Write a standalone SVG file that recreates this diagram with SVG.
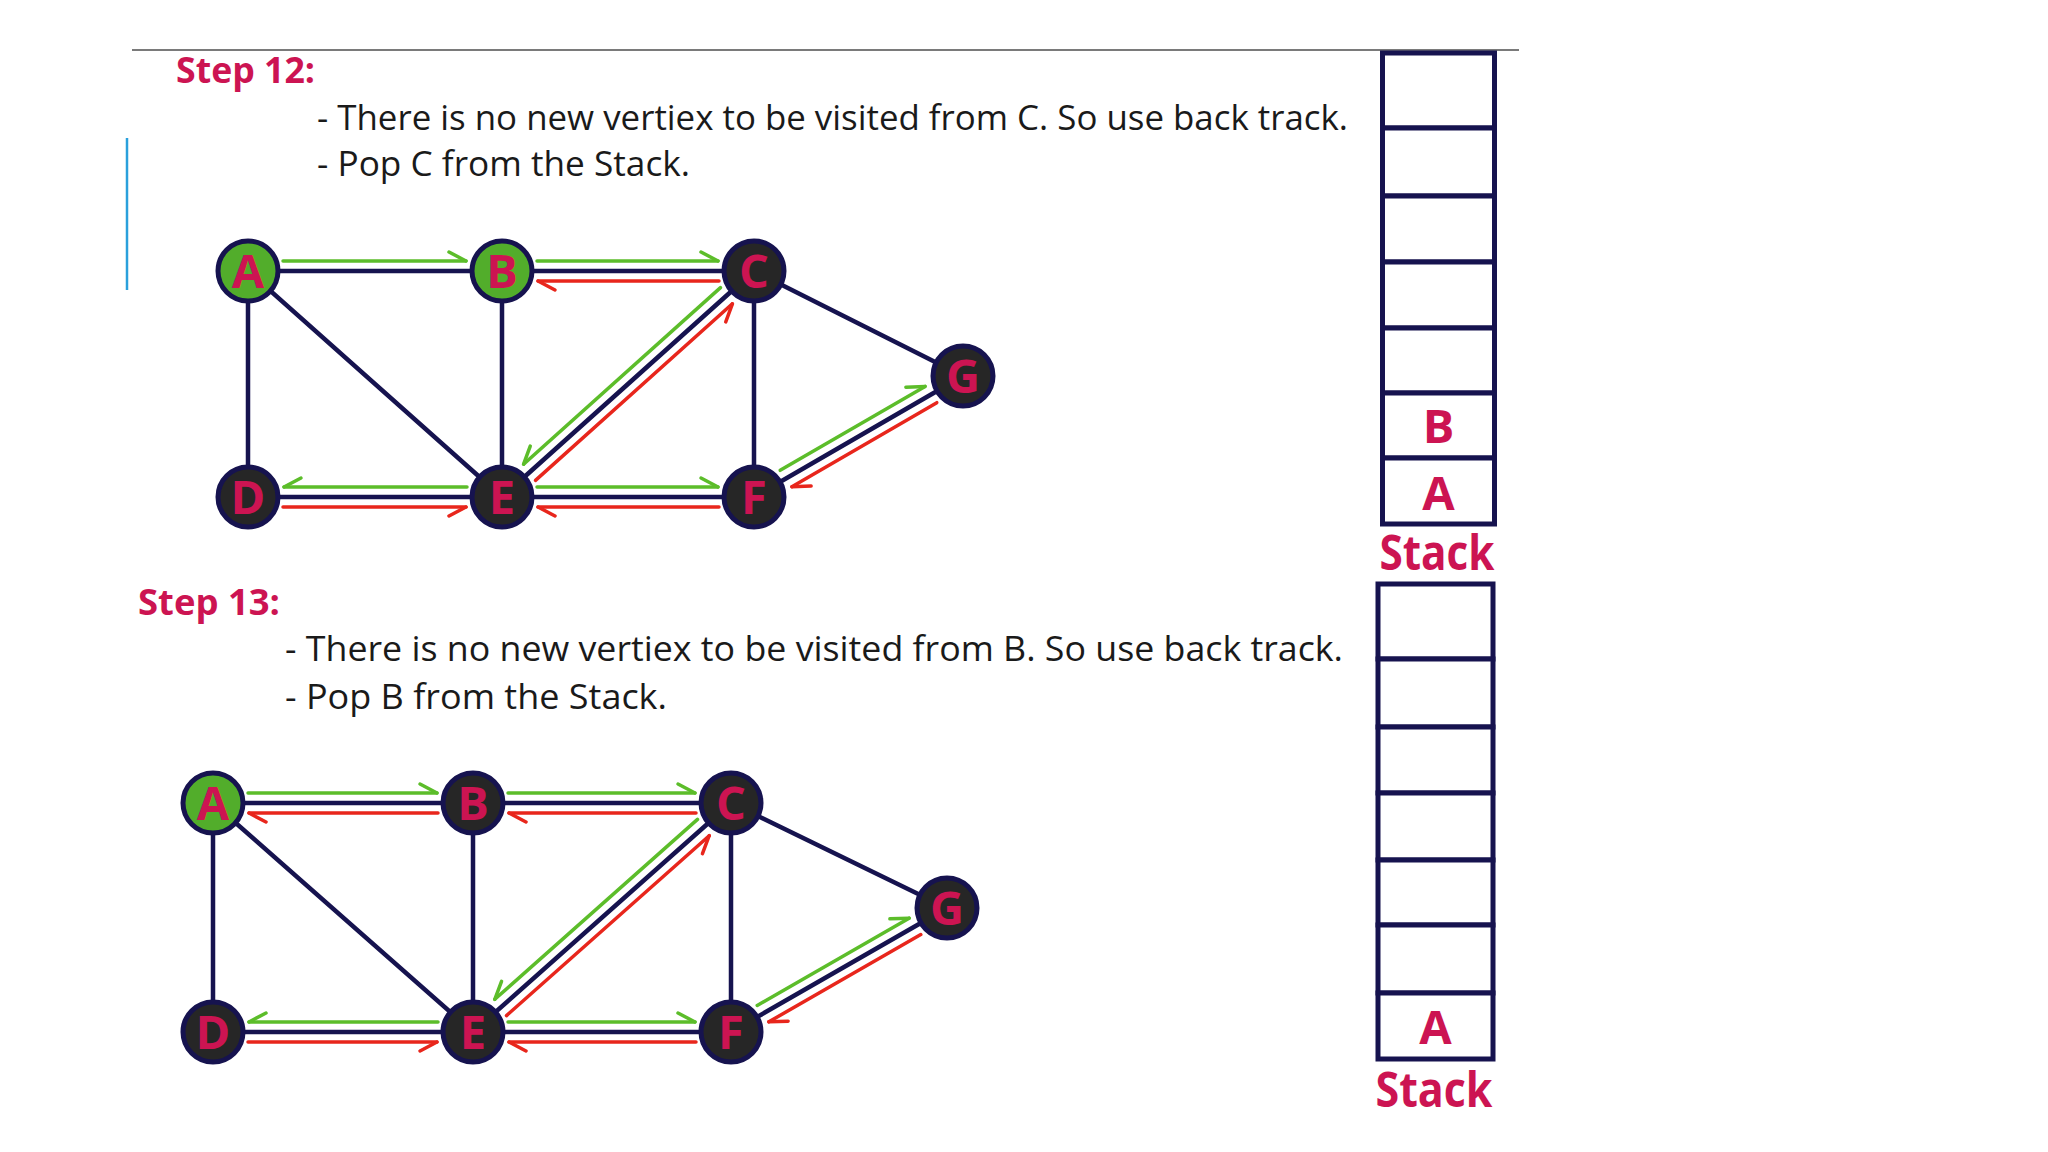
<svg xmlns="http://www.w3.org/2000/svg" width="2048" height="1152" viewBox="0 0 2048 1152">
<defs>
<style>
.title{font-family:"Open Sans","Noto Sans","Liberation Sans",sans-serif;font-weight:700;fill:#cc1452;font-size:35px}
.body{font-family:"Open Sans","Noto Sans","Liberation Sans",sans-serif;font-size:34px;fill:#1a1a1a}
.edge{stroke:#16134f;stroke-width:4.5;stroke-linecap:round;fill:none}
.ga{stroke:#5cbd2a;stroke-width:3.5;stroke-linecap:round;fill:none}
.ra{stroke:#e8261c;stroke-width:3.5;stroke-linecap:round;fill:none}
.node{stroke:#16134f;stroke-width:5}
.dark{fill:#262626}
.green{fill:#52ad2b}
.lbl{font-family:"Open Sans","Noto Sans","Liberation Sans",sans-serif;font-weight:700;font-size:47px;fill:#cc1452;text-anchor:middle}
.cell{fill:#ffffff;stroke:#16134f;stroke-width:5}
.stk{font-family:"Open Sans","Noto Sans","Liberation Sans",sans-serif;font-weight:700;font-size:48px;fill:#cc1452;text-anchor:middle}
</style>
<marker id="gpos" markerUnits="userSpaceOnUse" orient="auto" markerWidth="40" markerHeight="40" viewBox="-20 -20 40 40" refX="0" refY="0" overflow="visible"><path d="M0,0 L-17,9" stroke="#5cbd2a" stroke-width="3.5" stroke-linecap="round" fill="none"/></marker>
<marker id="gneg" markerUnits="userSpaceOnUse" orient="auto" markerWidth="40" markerHeight="40" viewBox="-20 -20 40 40" refX="0" refY="0" overflow="visible"><path d="M0,0 L-17,-9" stroke="#5cbd2a" stroke-width="3.5" stroke-linecap="round" fill="none"/></marker>
<marker id="rpos" markerUnits="userSpaceOnUse" orient="auto" markerWidth="40" markerHeight="40" viewBox="-20 -20 40 40" refX="0" refY="0" overflow="visible"><path d="M0,0 L-17,9" stroke="#e8261c" stroke-width="3.5" stroke-linecap="round" fill="none"/></marker>
<marker id="rneg" markerUnits="userSpaceOnUse" orient="auto" markerWidth="40" markerHeight="40" viewBox="-20 -20 40 40" refX="0" refY="0" overflow="visible"><path d="M0,0 L-17,-9" stroke="#e8261c" stroke-width="3.5" stroke-linecap="round" fill="none"/></marker>
</defs>
<rect width="2048" height="1152" fill="#ffffff"/>
<line x1="132" y1="50" x2="1519" y2="50" stroke="#7a7a7a" stroke-width="2"/>
<line x1="127" y1="138" x2="127" y2="290" stroke="#2aa0dc" stroke-width="2.5"/>

<g id="text-step12">
<text class="title" x="176" y="83" textLength="139" lengthAdjust="spacingAndGlyphs">Step 12:</text>
<text class="body" x="317" y="130" textLength="1031" lengthAdjust="spacingAndGlyphs">- There is no new vertiex to be visited from C. So use back track.</text>
<text class="body" x="317" y="176" textLength="373" lengthAdjust="spacingAndGlyphs">- Pop C from the Stack.</text>
</g>
<g id="text-step13">
<text class="title" x="138" y="615" textLength="142" lengthAdjust="spacingAndGlyphs">Step 13:</text>
<text class="body" x="285" y="661" textLength="1058" lengthAdjust="spacingAndGlyphs">- There is no new vertiex to be visited from B. So use back track.</text>
<text class="body" x="285" y="709" textLength="382" lengthAdjust="spacingAndGlyphs">- Pop B from the Stack.</text>
</g>

<g id="connectors-step12">
<line class="edge" x1="248" y1="271" x2="502" y2="271"/>
<line class="edge" x1="502" y1="271" x2="754" y2="271"/>
<line class="edge" x1="248" y1="271" x2="248" y2="497"/>
<line class="edge" x1="248" y1="271" x2="502" y2="497"/>
<line class="edge" x1="502" y1="271" x2="502" y2="497"/>
<line class="edge" x1="754" y1="271" x2="502" y2="497"/>
<line class="edge" x1="754" y1="271" x2="754" y2="497"/>
<line class="edge" x1="754" y1="271" x2="963" y2="376"/>
<line class="edge" x1="248" y1="497" x2="502" y2="497"/>
<line class="edge" x1="502" y1="497" x2="754" y2="497"/>
<line class="edge" x1="754" y1="497" x2="963" y2="376"/>
<line class="ga" x1="283" y1="261" x2="466" y2="261" marker-end="url(#gneg)"/>
<line class="ga" x1="537" y1="261" x2="718" y2="261" marker-end="url(#gneg)"/>
<line class="ra" x1="719" y1="281" x2="538" y2="281" marker-end="url(#rneg)"/>
<line class="ga" x1="467" y1="487" x2="284" y2="487" marker-end="url(#gpos)"/>
<line class="ra" x1="283" y1="507" x2="466" y2="507" marker-end="url(#rpos)"/>
<line class="ga" x1="537" y1="487" x2="718" y2="487" marker-end="url(#gneg)"/>
<line class="ra" x1="719" y1="507" x2="538" y2="507" marker-end="url(#rneg)"/>
<line class="ga" x1="720.5" y1="287.6" x2="523.6" y2="464.2" marker-end="url(#gpos)"/>
<line class="ra" x1="535.5" y1="480.4" x2="732.4" y2="303.8" marker-end="url(#rpos)"/>
<line class="ga" x1="780.2" y1="470.3" x2="925.1" y2="386.4" marker-end="url(#gneg)"/>
<line class="ra" x1="936.8" y1="402.7" x2="791.9" y2="486.7" marker-end="url(#rneg)"/>
</g>

<g id="connectors-step13">
<line class="edge" x1="213" y1="803" x2="473" y2="803"/>
<line class="edge" x1="473" y1="803" x2="731" y2="803"/>
<line class="edge" x1="213" y1="803" x2="213" y2="1032"/>
<line class="edge" x1="213" y1="803" x2="473" y2="1032"/>
<line class="edge" x1="473" y1="803" x2="473" y2="1032"/>
<line class="edge" x1="731" y1="803" x2="473" y2="1032"/>
<line class="edge" x1="731" y1="803" x2="731" y2="1032"/>
<line class="edge" x1="731" y1="803" x2="947" y2="908"/>
<line class="edge" x1="213" y1="1032" x2="473" y2="1032"/>
<line class="edge" x1="473" y1="1032" x2="731" y2="1032"/>
<line class="edge" x1="731" y1="1032" x2="947" y2="908"/>
<line class="ga" x1="248" y1="793" x2="437" y2="793" marker-end="url(#gneg)"/>
<line class="ra" x1="438" y1="813" x2="249" y2="813" marker-end="url(#rneg)"/>
<line class="ga" x1="508" y1="793" x2="695" y2="793" marker-end="url(#gneg)"/>
<line class="ra" x1="696" y1="813" x2="509" y2="813" marker-end="url(#rneg)"/>
<line class="ga" x1="438" y1="1022" x2="249" y2="1022" marker-end="url(#gpos)"/>
<line class="ra" x1="248" y1="1042" x2="437" y2="1042" marker-end="url(#rpos)"/>
<line class="ga" x1="508" y1="1022" x2="695" y2="1022" marker-end="url(#gneg)"/>
<line class="ra" x1="696" y1="1042" x2="509" y2="1042" marker-end="url(#rneg)"/>
<line class="ga" x1="697.5" y1="819.4" x2="494.8" y2="999.3" marker-end="url(#gpos)"/>
<line class="ra" x1="506.5" y1="1015.6" x2="709.2" y2="835.7" marker-end="url(#rpos)"/>
<line class="ga" x1="757.2" y1="1005.4" x2="909.1" y2="918.2" marker-end="url(#gneg)"/>
<line class="ra" x1="920.8" y1="934.6" x2="768.9" y2="1021.8" marker-end="url(#rneg)"/>
</g>

<g id="s12-A"><circle class="node green" cx="248" cy="271" r="30"/><text class="lbl" x="248" y="288">A</text></g>
<g id="s12-B"><circle class="node green" cx="502" cy="271" r="30"/><text class="lbl" x="502" y="288">B</text></g>
<g id="s12-C"><circle class="node dark" cx="754" cy="271" r="30"/><text class="lbl" x="754" y="288">C</text></g>
<g id="s12-G"><circle class="node dark" cx="963" cy="376" r="30"/><text class="lbl" x="963" y="393">G</text></g>
<g id="s12-D"><circle class="node dark" cx="248" cy="497" r="30"/><text class="lbl" x="248" y="514">D</text></g>
<g id="s12-E"><circle class="node dark" cx="502" cy="497" r="30"/><text class="lbl" x="502" y="514">E</text></g>
<g id="s12-F"><circle class="node dark" cx="754" cy="497" r="30"/><text class="lbl" x="754" y="514">F</text></g>

<g id="s13-A"><circle class="node green" cx="213" cy="803" r="30"/><text class="lbl" x="213" y="820">A</text></g>
<g id="s13-B"><circle class="node dark" cx="473" cy="803" r="30"/><text class="lbl" x="473" y="820">B</text></g>
<g id="s13-C"><circle class="node dark" cx="731" cy="803" r="30"/><text class="lbl" x="731" y="820">C</text></g>
<g id="s13-G"><circle class="node dark" cx="947" cy="908" r="30"/><text class="lbl" x="947" y="925">G</text></g>
<g id="s13-D"><circle class="node dark" cx="213" cy="1032" r="30"/><text class="lbl" x="213" y="1049">D</text></g>
<g id="s13-E"><circle class="node dark" cx="473" cy="1032" r="30"/><text class="lbl" x="473" y="1049">E</text></g>
<g id="s13-F"><circle class="node dark" cx="731" cy="1032" r="30"/><text class="lbl" x="731" y="1049">F</text></g>

<g id="stack-step12">
<rect class="cell" x="1382.5" y="53" width="112" height="75"/>
<rect class="cell" x="1382.5" y="128" width="112" height="68"/>
<rect class="cell" x="1382.5" y="196" width="112" height="66"/>
<rect class="cell" x="1382.5" y="262" width="112" height="66"/>
<rect class="cell" x="1382.5" y="328" width="112" height="65"/>
<rect class="cell" x="1382.5" y="393" width="112" height="65"/>
<rect class="cell" x="1382.5" y="458" width="112" height="66"/>
<text class="lbl" x="1438.5" y="443">B</text>
<text class="lbl" x="1438.5" y="510">A</text>
<text class="stk" x="1437" y="570" textLength="115" lengthAdjust="spacingAndGlyphs">Stack</text>
</g>

<g id="stack-step13">
<rect class="cell" x="1378" y="584" width="115" height="75"/>
<rect class="cell" x="1378" y="659" width="115" height="68"/>
<rect class="cell" x="1378" y="727" width="115" height="66"/>
<rect class="cell" x="1378" y="793" width="115" height="67"/>
<rect class="cell" x="1378" y="860" width="115" height="65"/>
<rect class="cell" x="1378" y="925" width="115" height="68"/>
<rect class="cell" x="1378" y="993" width="115" height="66"/>
<text class="lbl" x="1435.5" y="1044">A</text>
<text class="stk" x="1434" y="1107" textLength="117" lengthAdjust="spacingAndGlyphs">Stack</text>
</g>
</svg>
